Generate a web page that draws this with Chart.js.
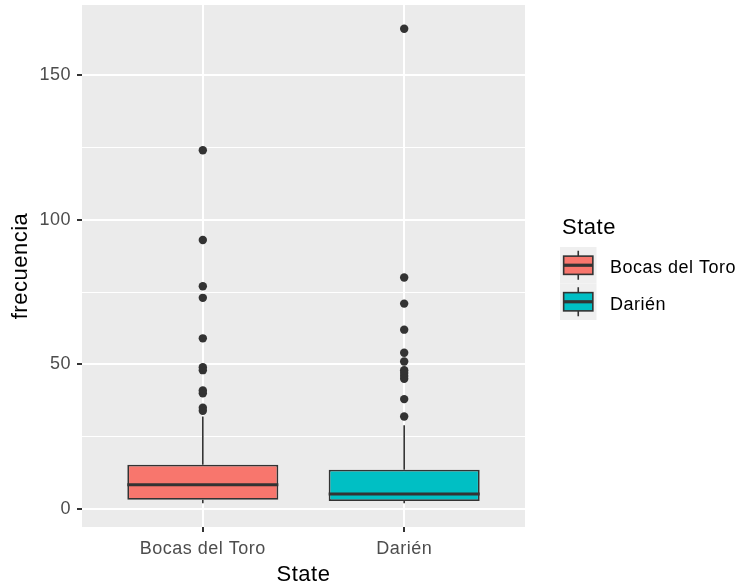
<!DOCTYPE html>
<html>
<head>
<meta charset="utf-8">
<script src="https://cdn.jsdelivr.net/npm/chart.js@4.4.1/dist/chart.umd.min.js"></script>
<style>
    body { margin: 0; background: #ffffff; }
    #contenedor { width: 741px; height: 588px; }
</style>
</head>
<body>
<div id="contenedor"><canvas id="grafico"></canvas></div>
<script>
// Datos: frecuencia por estado
const estados = ['Bocas del Toro', 'Darién'];
const colores = ['#F8766D', '#00BFC4'];
const bigoteInf = [2, 2];
const cuartil1 = [3.2, 2.8];
const medianas = [8.4, 5.2];
const cuartil3 = [15.3, 13.6];
const bigoteSup = [32, 29];
const atipicosBocas = [34, 35, 40, 41, 48, 49, 59, 73, 77, 93, 124];
const atipicosDarien = [32, 38, 45, 46, 47, 48, 51, 54, 62, 71, 80, 166];
const ticksY = [0, 50, 100, 150];
const ticksYMenores = [25, 75, 125];

const gris20 = '#333333';
const fuente = '"Liberation Sans", Arial, sans-serif';
Chart.defaults.font.family = fuente;

// Rango del eje y con la expansión del 5% de ggplot
const todos = bigoteInf.concat(bigoteSup, atipicosBocas, atipicosDarien);
const minDato = Math.min(...todos);
const maxDato = Math.max(...todos);
const margen = (maxDato - minDato) * 0.05;

// Fondo gris del panel
const fondoPanel = {
    id: 'fondoPanel',
    beforeDraw(chart) {
        const { ctx, chartArea: a } = chart;
        ctx.letterSpacing = '0.5px';
        ctx.save();
        ctx.fillStyle = '#EBEBEB';
        ctx.fillRect(a.left, a.top, a.right - a.left, a.bottom - a.top);
        ctx.restore();
    }
};

// Bigotes y medianas de cada caja
const bigotesYMedianas = {
    id: 'bigotesYMedianas',
    afterDatasetsDraw(chart) {
        const { ctx, scales: { x, y } } = chart;
        const cajas = chart.getDatasetMeta(0).data;
        ctx.save();
        ctx.strokeStyle = gris20;
        estados.forEach((estado, i) => {
            const px = x.getPixelForValue(i + 1);
            ctx.lineWidth = 1.6;
            ctx.beginPath();
            ctx.moveTo(px, y.getPixelForValue(cuartil3[i]));
            ctx.lineTo(px, y.getPixelForValue(bigoteSup[i]));
            ctx.moveTo(px, y.getPixelForValue(cuartil1[i]));
            ctx.lineTo(px, y.getPixelForValue(bigoteInf[i]));
            ctx.stroke();

            const mitad = cajas[i].width / 2;
            const py = y.getPixelForValue(medianas[i]);
            ctx.lineWidth = 3.2;
            ctx.beginPath();
            ctx.moveTo(px - mitad, py);
            ctx.lineTo(px + mitad, py);
            ctx.stroke();
        });
        ctx.restore();
    }
};

// Leyenda al estilo ggplot
const leyenda = {
    id: 'leyenda',
    afterDraw(chart) {
        const { ctx, chartArea: a } = chart;
        const lado = 36.5;
        const izq = a.right + 35;
        const centro = (a.top + a.bottom) / 2;
        const arriba = centro - 19;
        ctx.save();
        ctx.textBaseline = 'middle';
        ctx.textAlign = 'left';
        ctx.fillStyle = '#000000';
        ctx.font = '22px ' + fuente;
        ctx.fillText('State', izq + 2, arriba - 19);

        estados.forEach((estado, i) => {
            const top = arriba + i * lado;
            ctx.fillStyle = '#EFEFEF';
            ctx.fillRect(izq, top, lado, lado);

            const cx = izq + lado / 2;
            ctx.strokeStyle = gris20;
            ctx.lineWidth = 1.6;
            ctx.beginPath();
            ctx.moveTo(cx, top + lado * 0.1);
            ctx.lineTo(cx, top + lado * 0.25);
            ctx.moveTo(cx, top + lado * 0.75);
            ctx.lineTo(cx, top + lado * 0.9);
            ctx.stroke();

            ctx.fillStyle = colores[i];
            ctx.fillRect(izq + lado * 0.1, top + lado * 0.25, lado * 0.8, lado * 0.5);
            ctx.strokeRect(izq + lado * 0.1, top + lado * 0.25, lado * 0.8, lado * 0.5);
            ctx.lineWidth = 3.2;
            ctx.beginPath();
            ctx.moveTo(izq + lado * 0.1, top + lado / 2);
            ctx.lineTo(izq + lado * 0.9, top + lado / 2);
            ctx.stroke();

            ctx.fillStyle = '#000000';
            ctx.font = '18px ' + fuente;
            ctx.fillText(estado, izq + 50, top + lado / 2 + 3);
        });
        ctx.restore();
    }
};

// Sin márgenes extra por las etiquetas: el panel ocupa el área fija
function sinRelleno(s) {
    s.paddingTop = 0;
    s.paddingBottom = 0;
    s.paddingLeft = 0;
    s.paddingRight = 0;
}

const puntosAtipicos = atipicosBocas.map(v => ({ x: 1, y: v }))
    .concat(atipicosDarien.map(v => ({ x: 2, y: v })));

new Chart(document.getElementById('grafico'), {
    type: 'bar',
    data: {
        datasets: [{
            type: 'bar',
            data: estados.map((estado, i) => ({ x: i + 1, y: [cuartil1[i], cuartil3[i]] })),
            backgroundColor: colores,
            borderColor: gris20,
            borderWidth: 1.8,
            borderSkipped: false,
            categoryPercentage: 1,
            barPercentage: 0.75
        }, {
            type: 'scatter',
            data: puntosAtipicos,
            backgroundColor: gris20,
            borderWidth: 0,
            pointRadius: 4.2
        }]
    },
    options: {
        responsive: true,
        maintainAspectRatio: false,
        animation: false,
        events: [],
        layout: { padding: { left: 0, top: 5, right: 216, bottom: 0 } },
        plugins: {
            legend: { display: false },
            tooltip: { enabled: false }
        },
        scales: {
            x: {
                type: 'linear',
                min: 0.4,
                max: 2.6,
                offset: false,
                afterBuildTicks: s => { s.ticks = estados.map((e, i) => ({ value: i + 1 })); },
                afterFit: s => { s.height = 61; sinRelleno(s); },
                ticks: {
                    callback: v => estados[v - 1],
                    color: '#4D4D4D',
                    font: { size: 18 },
                    padding: 6,
                    maxRotation: 0,
                    autoSkip: false
                },
                grid: { offset: false, color: '#FFFFFF', lineWidth: 2, tickColor: gris20, tickLength: 5, tickWidth: 2 },
                border: { display: false },
                title: { display: true, text: 'State', color: '#000000', font: { size: 22 }, padding: { top: 0, bottom: 0 } }
            },
            y: {
                type: 'linear',
                min: minDato - margen,
                max: maxDato + margen,
                afterBuildTicks: s => {
                    s.ticks = ticksY.concat(ticksYMenores).sort((a, b) => a - b).map(v => ({ value: v }));
                },
                afterFit: s => { s.width = 82; sinRelleno(s); },
                ticks: {
                    callback: v => ticksY.includes(v) ? String(v) : '',
                    color: '#4D4D4D',
                    font: { size: 18 },
                    padding: 6
                },
                grid: {
                    color: '#FFFFFF',
                    lineWidth: c => ticksY.includes(c.tick.value) ? 2 : 1,
                    tickColor: c => ticksY.includes(c.tick.value) ? gris20 : 'rgba(0,0,0,0)',
                    tickLength: 5,
                    tickWidth: 2
                },
                border: { display: false },
                title: { display: true, text: 'frecuencia', color: '#000000', font: { size: 22 }, padding: { top: 8, bottom: 0 } }
            }
        }
    },
    plugins: [fondoPanel, bigotesYMedianas, leyenda]
});
</script>
</body>
</html>
